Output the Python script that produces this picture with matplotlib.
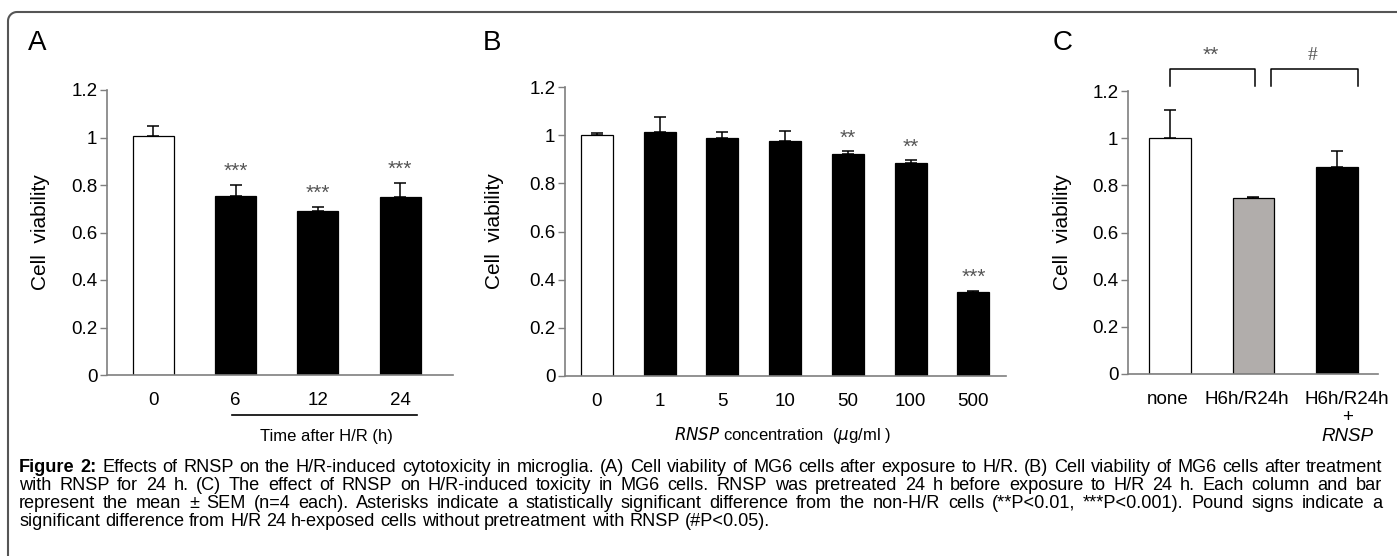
import numpy as np
import matplotlib
matplotlib.use('Agg')
import matplotlib.pyplot as plt
from matplotlib.transforms import IdentityTransform, ScaledTranslation

# ---- data ----
# A: viability after H/R, by time after H/R (h)
time_labels = ['0', '6', '12', '24']
time_viab = [1.006, 0.755, 0.690, 0.749]
time_sem = [0.044, 0.044, 0.016, 0.058]
time_sig = ['', '***', '***', '***']

# B: viability vs RNSP concentration (ug/ml)
conc_labels = ['0', '1', '5', '10', '50', '100', '500']
conc_viab = [1.000, 1.015, 0.988, 0.975, 0.922, 0.885, 0.349]
conc_sem = [0.007, 0.061, 0.027, 0.042, 0.012, 0.012, 0.006]
conc_sig = ['', '', '', '', '**', '**', '***']

# C: H/R with / without RNSP pretreatment
grp_labels = ['none', 'H6h/R24h', 'H6h/R24h']
grp_viab = [1.000, 0.745, 0.879]
grp_sem = [0.120, 0.005, 0.068]

yticks = [0, 0.2, 0.4, 0.6, 0.8, 1.0, 1.2]
ytick_labels = ['0', '0.2', '0.4', '0.6', '0.8', '1', '1.2']

caption = [
    "Effects of RNSP on the H/R-induced cytotoxicity in microglia. (A) Cell viability of MG6 cells after exposure to H/R. (B) Cell viability of MG6 cells after treatment",
    "with RNSP for 24 h. (C) The effect of RNSP on H/R-induced toxicity in MG6 cells. RNSP was pretreated 24 h before exposure to H/R 24 h. Each column and bar",
    "represent the mean \u00b1 SEM (n=4 each). Asterisks indicate a statistically significant difference from the non-H/R cells (**P<0.01, ***P<0.001). Pound signs indicate a",
    "significant difference from H/R 24 h-exposed cells without pretreatment with RNSP (#P<0.05).",
]

plt.rcParams['font.family'] = ['Liberation Sans', 'DejaVu Sans']

W, H = 1397, 556
fig = plt.figure(figsize=(W / 100, H / 100), dpi=100)

AX_GREY = '#7f7f7f'
STAR_GREY = '#555555'


def px(x0, y0, x1, y1):
    # pixel box (top-left origin) -> figure fraction rect
    return [x0 / W, 1 - y1 / H, (x1 - x0) / W, (y1 - y0) / H]


def bar_panel(rect, vals, errs, colors, labels, xlim, width):
    ax = fig.add_axes(rect)
    x = np.arange(len(vals))
    ax.bar(x, vals, width=width, color=colors, edgecolor='black', linewidth=0.9, zorder=2)
    ax.errorbar(x, vals, yerr=[np.zeros(len(vals)), errs], fmt='none', ecolor='black',
                elinewidth=1.1, capsize=4, capthick=1.1, zorder=3)
    ax.set_xlim(*xlim)
    ax.set_ylim(0, 1.2)
    ax.set_yticks(yticks)
    ax.set_yticklabels(ytick_labels, fontsize=13.5)
    ax.set_xticks(x)
    ax.set_xticklabels(labels, fontsize=13.5)
    ax.tick_params(axis='x', length=0, pad=12)
    ax.tick_params(axis='y', length=5, width=1, color=AX_GREY, pad=2)
    for s in ['top', 'right']:
        ax.spines[s].set_visible(False)
    for s in ['left', 'bottom']:
        ax.spines[s].set_color(AX_GREY)
        ax.spines[s].set_linewidth(1.2)
    return ax


def stars(ax, vals, errs, sig, off):
    for i, (v, e, s) in enumerate(zip(vals, errs, sig)):
        if s:
            ax.text(i, v + e + off, s, ha='center', va='baseline', fontsize=15,
                    color=STAR_GREY)


# ---- A ----
axA = bar_panel(px(107, 90, 453, 375), time_viab, time_sem,
                ['white', 'black', 'black', 'black'], time_labels, (-0.56, 3.64), 0.5)
stars(axA, time_viab, time_sem, time_sig, 0.037)
axA.plot([0.96, 3.2], [-0.14, -0.14], color='black', lw=1.2,
         transform=axA.get_xaxis_transform(), clip_on=False)
axA.text(2.1, -0.215, 'Time after H/R (h)', ha='center', va='center', fontsize=12,
         transform=axA.get_xaxis_transform())

# ---- B ----
axB = bar_panel(px(565, 87, 1006, 376), conc_viab, conc_sem,
                ['white'] + ['black'] * 6, conc_labels, (-0.51, 6.52), 0.51)
stars(axB, conc_viab, conc_sem, conc_sig, 0.03)
axB.text(2.95, -0.205, r'$\it{RNSP}$ concentration  ($\mu$g/ml )', ha='center', va='center',
         fontsize=12, transform=axB.get_xaxis_transform())

# ---- C ----
axC = bar_panel(px(1128, 91, 1378, 374), grp_viab, grp_sem,
                ['white', '#b1adab', 'black'], grp_labels, (-0.5, 2.49), 0.5)
for lab, dx in zip(axC.get_xticklabels(), [-2, -7, 10]):
    lab.set_transform(lab.get_transform() + ScaledTranslation(dx / 100, 0, fig.dpi_scale_trans))
axC.text(2.12, -0.155, '+', ha='center', va='center', fontsize=13.5,
         transform=axC.get_xaxis_transform())
axC.text(2.12, -0.22, 'RNSP', ha='center', va='center', fontsize=13.5, style='italic',
         transform=axC.get_xaxis_transform())
for xa, xb, lab, fam, fs in [(0.0, 1.02, '**', 'Liberation Sans', 15),
                             (1.21, 2.25, '#', 'Liberation Serif', 14)]:
    axC.plot([xa, xa, xb, xb], [1.22, 1.295, 1.295, 1.22], color='black', lw=1.1, clip_on=False)
    axC.text((xa + xb) / 2 - 0.02, 1.33, lab, ha='center', va='baseline', fontsize=fs,
             color=STAR_GREY, family=fam, clip_on=False)

# panel letters and y labels
for xl, letter in [(28, 'A'), (483, 'B'), (1053, 'C')]:
    fig.text(xl / W, 1 - 43 / H, letter, fontsize=20, ha='left', va='center')
for xl, yc in [(41, 232), (495, 231), (1063, 232)]:
    fig.text(xl / W, 1 - yc / H, 'Cell  viability', fontsize=15, rotation=90,
             ha='center', va='center')

# frame: left edge and top edge with rounded corner
r = 9
ang = np.linspace(np.pi, np.pi / 2, 12)
fx = np.concatenate([[8], 8 + r + r * np.cos(ang), [W]])
fy = np.concatenate([[H], 12 + r - r * np.sin(ang), [12]])
fig.add_artist(plt.Line2D(fx / W, 1 - fy / H, color='#555555', lw=1.5,
                          transform=fig.transFigure))

# ---- caption, justified ----
renderer = fig.canvas.get_renderer()
x_left, x_right = 19, 1382
baselines = [472, 490, 508, 526]
cap_family = ['Liberation Sans', 'DejaVu Sans']


def measure(s, size, weight='normal'):
    t = fig.text(0, 0, s, fontsize=size, family=cap_family, fontweight=weight,
                 transform=IdentityTransform())
    w = t.get_window_extent(renderer=renderer).width
    t.remove()
    return w


# size so that the first line just fits with ordinary word spacing
ref_w = measure('Figure 2: ', 10, 'bold') + measure(caption[0], 10)
cap_size = 10 * (x_right - x_left) / ref_w * 0.99
space_w = measure('a a', cap_size) - measure('aa', cap_size)

for i, line in enumerate(caption):
    words = [(w, 'normal') for w in line.split(' ')]
    if i == 0:
        words = [('Figure', 'bold'), ('2:', 'bold')] + words
    widths = [measure(w, cap_size, wt) for w, wt in words]
    if i < len(caption) - 1:
        gap = (x_right - x_left - sum(widths)) / (len(words) - 1)
    else:
        gap = space_w
    xx = x_left
    yb = H - baselines[i]
    for (w, wt), wd in zip(words, widths):
        fig.text(xx, yb, w, fontsize=cap_size, family=cap_family, fontweight=wt,
                 va='baseline', ha='left', transform=IdentityTransform())
        xx += wd + gap

fig.savefig('out.png', dpi=100)
